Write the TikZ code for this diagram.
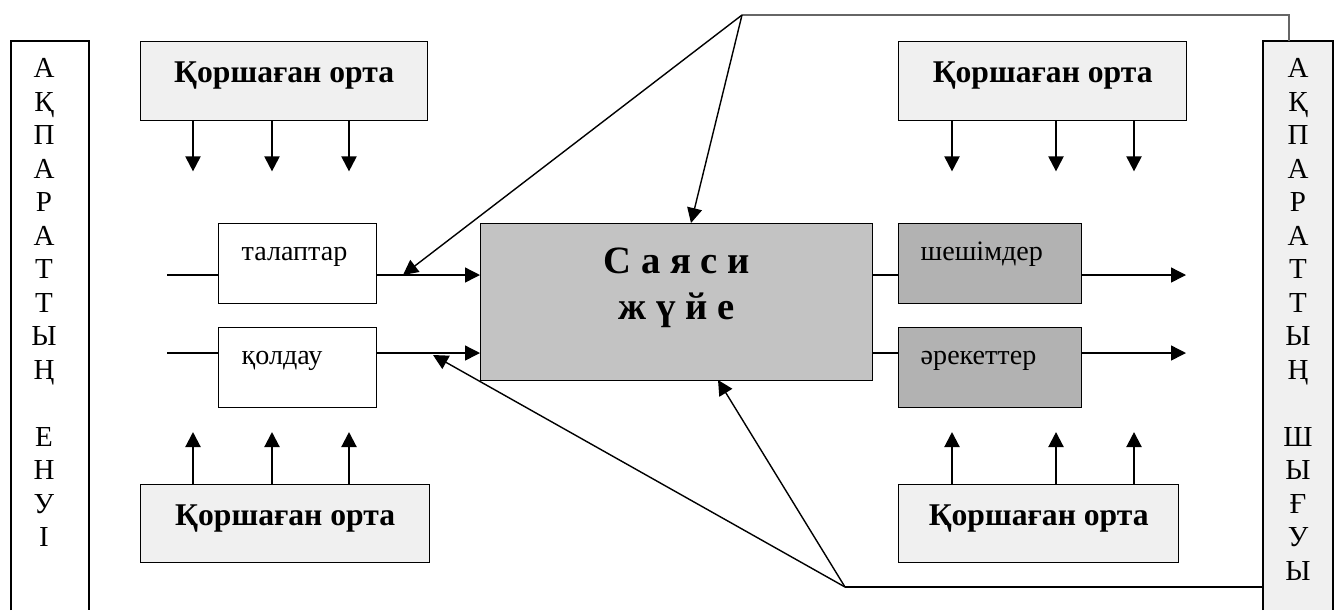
\documentclass[tikz,border=0pt]{standalone}
\usepackage{fontspec}
\setmainfont{Liberation Serif}
\newfontfamily\colfont{Liberation Mono}
\usetikzlibrary{arrows.meta,positioning}
\definecolor{envgray}{HTML}{F0F0F0}
\definecolor{sysgray}{HTML}{C3C3C3}
\definecolor{outgray}{HTML}{B2B2B2}

\begin{document}
\begin{tikzpicture}[x=0.02cm,y=-0.02cm,line width=0.8pt,
  envbox/.style={draw,fill=envgray,anchor=north west,inner sep=0pt,minimum height=1.58cm,
    font=\bfseries\fontsize{18}{20}\selectfont,text height=0.5em,text depth=0.35em},
  flowbox/.style={draw,anchor=north west,inner xsep=0.46cm,inner ysep=0pt,text width=2.24cm,
    align=left,text height=0.74cm,text depth=0.86cm,font=\fontsize{16}{18}\selectfont},
  arr/.style={-{Triangle[length=0.3cm,width=0.3cm]}},
  envarr/.style={arr,line width=1.2pt},
  letters/.style={anchor=north,inner sep=0pt,align=center,font=\fontsize{16.5}{19.07}\selectfont}]

\useasboundingbox (0,0) rectangle (1341,610);

% input / output columns
\draw (11,610) -- (11,41) -- (89,41) -- (89,610);
\filldraw[fill=envgray] (1263,610) -- (1263,41) -- (1333,41) -- (1333,610);
\node[letters] (inLetters) at (44,58) {А\\Қ\\П\\А\\Р\\А\\Т\\Т\\Ы\\Ң\\~\\Е\\Н\\У\\І};
\node[letters] (outLetters) at (1298,58) {А\\Қ\\П\\А\\Р\\А\\Т\\Т\\Ы\\Ң\\~\\Ш\\Ы\\Ғ\\У\\Ы};

% environment
\node[envbox,minimum width=5.74cm] (envTL) at (140,41) {Қоршаған орта};
\node[envbox,minimum width=5.78cm,minimum height=1.56cm] (envBL) at (140,484) {Қоршаған орта};
\node[envbox,minimum width=5.76cm] (envTR) at (898,41) {Қоршаған орта};
\node[envbox,minimum width=5.6cm,minimum height=1.56cm] (envBR) at (898,484) {Қоршаған орта};

\foreach \dx in {53,132,209} {
  \draw[envarr] ([xshift=\dx*0.02cm]envTL.south west) -- ++(0,50);
  \draw[envarr] ([xshift=\dx*0.02cm]envBL.north west) -- ++(0,-52);
}
\foreach \dx in {54,158,236} {
  \draw[envarr] ([xshift=\dx*0.02cm]envTR.south west) -- ++(0,50);
  \draw[envarr] ([xshift=\dx*0.02cm]envBR.north west) -- ++(0,-52);
}

% system
\node[flowbox] (demands) at (218,223) {талаптар};
\node[flowbox] (support) at (218,327) {қолдау};
\node[draw,fill=sysgray,anchor=north west,inner sep=0pt,minimum width=7.84cm,minimum height=3.14cm] (polsys) at (480,223) {};
\node[anchor=north,inner sep=0pt,align=center,font=\bfseries\fontsize{22}{26.4}\selectfont] (polsysName)
  at ([yshift=-0.48cm]polsys.north) {С а я с и\\ж ү й е};
\node[flowbox,fill=outgray,inner xsep=0.44cm,text width=2.78cm] (decisions) at (898,223) {шешімдер};
\node[flowbox,fill=outgray,inner xsep=0.44cm,text width=2.78cm] (actions) at (898,327) {әрекеттер};

\coordinate (inDem) at (167,275);
\coordinate (inSup) at (167,353);
\coordinate (outDec) at (1186,275);
\coordinate (outAct) at (1186,353);

\draw (inDem) -- (inDem -| demands.west);
\draw (inSup) -- (inSup -| support.west);
\draw[arr] (inDem -| demands.east) -- (inDem -| polsys.west);
\draw[arr] (inSup -| support.east) -- (inSup -| polsys.west);
\draw (inDem -| polsys.east) -- (inDem -| decisions.west);
\draw (inSup -| polsys.east) -- (inSup -| actions.west);
\draw[arr] (outDec -| decisions.east) -- (outDec);
\draw[arr] (outAct -| actions.east) -- (outAct);

% feedback
\coordinate (fbTop) at (742,15);
\coordinate (fbBot) at (845,587);
\coordinate (outTop) at (1289,41);
\coordinate (outLeft) at (1263,587);
\coordinate (fbDem) at (403,275);
\coordinate (fbSup) at (433,355);
\coordinate (fbSysTop) at (691,223);
\coordinate (fbSysBot) at (718,380);

\draw[black!60,line width=1pt] (outTop) |- (fbTop);
\draw (fbBot) -- (outLeft);
\draw[arr] (fbTop) -- (fbDem);
\draw[arr] (fbTop) -- (fbSysTop);
\draw[arr] (fbBot) -- (fbSup);
\draw[arr] (fbBot) -- (fbSysBot);
\end{tikzpicture}
\end{document}
